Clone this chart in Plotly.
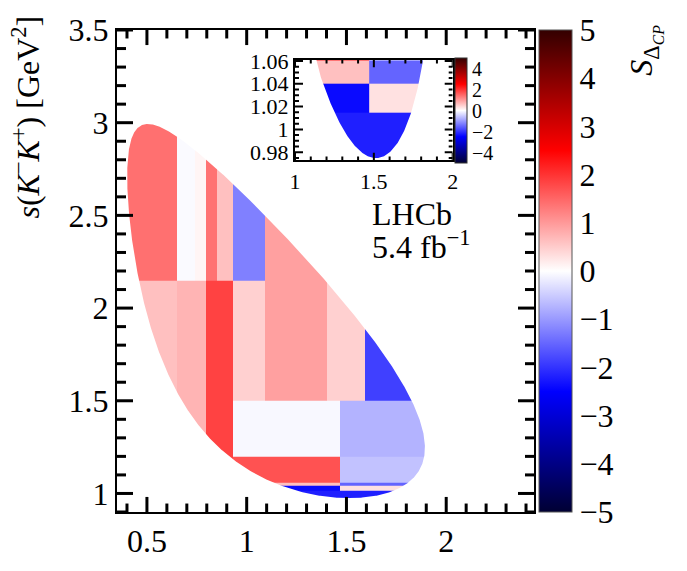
import numpy as np
import plotly.graph_objects as go

# D+ -> K- K+ pi+ masses [GeV]
M_D = 1.86966
M_K = 0.493677
M_PI = 0.13957

# Dalitz-plot bins: s(K-pi+) edges, s(K-K+) edges and the significance S_ΔCP
bin_x_lo = [0.40, 0.65, 0.74, 0.795, 0.85, 0.93,
            0.40, 0.65, 0.795, 0.93, 1.09, 1.40, 1.595,
            0.93, 1.47, 0.93, 1.47, 0.93, 1.47, 0.93, 1.47, 0.93]
bin_x_hi = [0.65, 0.74, 0.795, 0.85, 0.93, 1.09,
            0.65, 0.795, 0.93, 1.09, 1.40, 1.595, 1.90,
            1.47, 1.90, 1.47, 1.90, 1.47, 1.90, 1.47, 1.90, 1.90]
bin_y_lo = [2.15, 2.15, 2.15, 2.15, 2.15, 2.15,
            0.97, 0.97, 0.97, 1.50, 1.50, 1.50, 1.50,
            1.20, 1.20, 1.06, 1.06, 1.04, 1.04, 1.015, 1.015, 0.97]
bin_y_hi = [3.00, 3.00, 3.00, 3.00, 3.00, 3.00,
            2.15, 2.15, 2.15, 2.15, 3.00, 3.00, 3.00,
            1.50, 1.50, 1.20, 1.20, 1.06, 1.06, 1.04, 1.04, 1.015]
bin_s = [1.40, -0.05, 0.10, 1.38, 0.62, -1.25,
         0.62, 0.74, 1.85, 0.46, 0.93, 0.46, -1.87,
         -0.07, -0.75, 1.70, -0.60, 0.62, -1.52, -2.40, 0.29, -2.20]

# axis ticks
x_major = [0.5, 1.0, 1.5, 2.0]
y_major = [1.0, 1.5, 2.0, 2.5, 3.0, 3.5]
inset_x_major = [1.0, 1.5, 2.0]
inset_y_major = [0.98, 1.0, 1.02, 1.04, 1.06]
cbar_ticks = [-5, -4, -3, -2, -1, 0, 1, 2, 3, 4, 5]
inset_cbar_ticks = [-4, -2, 0, 2, 4]

FONT = "Liberation Serif"

X_RANGE = [0.35, 2.44]
Y_RANGE = [0.9, 3.5]
IX_RANGE = [1.0, 2.0]
IY_RANGE = [0.973, 1.061]


def kinematic_limits(s_kk):
    """s(K-pi+) range allowed for a given s(K-K+)."""
    m12 = np.sqrt(s_kk)
    e1 = m12 / 2.0
    e3 = (M_D**2 - s_kk - M_PI**2) / (2.0 * m12)
    p1 = np.sqrt(np.clip(e1**2 - M_K**2, 0, None))
    p3 = np.sqrt(np.clip(e3**2 - M_PI**2, 0, None))
    lo = (e1 + e3) ** 2 - (p1 + p3) ** 2
    hi = (e1 + e3) ** 2 - (p1 - p3) ** 2
    return lo, hi


# Closed Dalitz boundary, densely sampled near both ends
y_min = (2 * M_K) ** 2
y_max = (M_D - M_PI) ** 2
t = np.linspace(0, np.pi, 600)
ys = y_min + (y_max - y_min) * (1 - np.cos(t)) / 2
xlo, xhi = kinematic_limits(ys)
bx = np.concatenate([xlo, xhi[::-1]])
by = np.concatenate([ys, ys[::-1]])


def mask_path(x0, x1, y0, y1):
    """Rectangle with the Dalitz region cut out (opposite winding)."""
    area = 0.5 * np.sum(bx * np.roll(by, -1) - np.roll(bx, -1) * by)
    ix, iy = (bx, by) if area < 0 else (bx[::-1], by[::-1])
    k = int(np.argmin(iy))
    ix = np.concatenate([ix[k:], ix[:k + 1]])
    iy = np.concatenate([iy[k:], iy[:k + 1]])
    mx = [x0, x1, x1, x0, x0] + [float(v) for v in ix] + [x0]
    my = [y0, y0, y1, y1, y0] + [float(v) for v in iy] + [y0]
    return mx, my


# Heatmap bricks built from the bin list
xe = sorted(set(bin_x_lo + bin_x_hi))
ye = sorted(set(bin_y_lo + bin_y_hi))
z = []
for j in range(len(ye) - 1):
    yc = 0.5 * (ye[j] + ye[j + 1])
    row = []
    for i in range(len(xe) - 1):
        xc = 0.5 * (xe[i] + xe[i + 1])
        val = None
        for a, b, c, d, s in zip(bin_x_lo, bin_x_hi, bin_y_lo, bin_y_hi, bin_s):
            if a <= xc < b and c <= yc < d:
                val = s
                break
        row.append(val)
    z.append(row)

cscale = [[0.0, "#000033"], [0.25, "#0000ff"], [0.5, "#ffffff"],
          [0.75, "#ff0000"], [1.0, "#330000"]]

L, R, T, B = 117, 153, 15, 44
W, H = 687, 571
pw, ph = W - L - R, H - T - B


def px_x(p):
    return (p - L) / pw


def px_y(p):
    return (H - B - p) / ph


INSET_X_DOM = [px_x(295), px_x(452.7)]
INSET_Y_DOM = [px_y(153.3), px_y(46.7)]

fig = go.Figure()

# main panel
fig.add_trace(go.Heatmap(x=xe, y=ye, z=z, coloraxis="coloraxis",
                         zsmooth=False, hoverinfo="skip"))
mx, my = mask_path(0.37, 1.95, 0.94, 3.05)
fig.add_trace(go.Scatter(x=mx, y=my, mode="lines", fill="toself",
                         fillcolor="white", line=dict(width=0, color="white"),
                         hoverinfo="skip", showlegend=False))

# inset around the phi(1020) region
fig.add_trace(go.Heatmap(x=xe, y=ye, z=z, coloraxis="coloraxis2",
                         zsmooth=False, hoverinfo="skip",
                         xaxis="x2", yaxis="y2"))
mx2, my2 = mask_path(0.98, 2.02, 0.95, 1.08)
fig.add_trace(go.Scatter(x=mx2, y=my2, mode="lines", fill="toself",
                         fillcolor="white", line=dict(width=0, color="white"),
                         hoverinfo="skip", showlegend=False,
                         xaxis="x2", yaxis="y2"))


def minor_values(lo, hi, step, majors):
    n0 = int(np.ceil(lo / step - 1e-9))
    n1 = int(np.floor(hi / step + 1e-9))
    vals = [round(n * step, 4) for n in range(n0, n1 + 1)]
    return [v for v in vals if all(abs(v - m) > 1e-6 for m in majors)]


def tick_trace(xr, yr, xdom_px, ydom_px, xvals, yvals, length, width,
               xa="x", ya="y"):
    """Inward tick marks on all four sides of a frame, as one line trace."""
    ux = (xr[1] - xr[0]) / xdom_px
    uy = (yr[1] - yr[0]) / ydom_px
    tx, ty = [], []
    for v in xvals:
        tx += [v, v, None, v, v, None]
        ty += [yr[0], yr[0] + length * uy, None,
               yr[1], yr[1] - length * uy, None]
    for v in yvals:
        tx += [xr[0], xr[0] + length * ux, None,
               xr[1], xr[1] - length * ux, None]
        ty += [v, v, None, v, v, None]
    return go.Scatter(x=tx, y=ty, mode="lines", xaxis=xa, yaxis=ya,
                      connectgaps=False,
                      line=dict(color="#000000", width=width),
                      hoverinfo="skip", showlegend=False)


main_wpx = pw
main_hpx = ph
inset_wpx = (INSET_X_DOM[1] - INSET_X_DOM[0]) * pw
inset_hpx = (INSET_Y_DOM[1] - INSET_Y_DOM[0]) * ph

fig.add_trace(tick_trace(X_RANGE, Y_RANGE, main_wpx, main_hpx,
                         x_major, y_major, 16, 3))
fig.add_trace(tick_trace(X_RANGE, Y_RANGE, main_wpx, main_hpx,
                         minor_values(*X_RANGE, 0.1, x_major),
                         minor_values(*Y_RANGE, 0.1, y_major), 9, 3))
fig.add_trace(tick_trace(IX_RANGE, IY_RANGE, inset_wpx, inset_hpx,
                         inset_x_major, inset_y_major, 8, 2, "x2", "y2"))
fig.add_trace(tick_trace(IX_RANGE, IY_RANGE, inset_wpx, inset_hpx,
                         minor_values(*IX_RANGE, 0.1, inset_x_major),
                         minor_values(*IY_RANGE, 0.005, inset_y_major),
                         4, 2, "x2", "y2"))


def frame_axis(size):
    return dict(showline=True, linecolor="black", linewidth=2,
                mirror=True, ticks="", showgrid=False, zeroline=False,
                tickfont=dict(family=FONT, size=size, color="black"))


fig.update_layout(
    width=W, height=H,
    margin=dict(l=L, r=R, t=T, b=B, pad=0),
    paper_bgcolor="white", plot_bgcolor="white",
    showlegend=False,
    xaxis=dict(range=X_RANGE, tickvals=x_major, **frame_axis(32)),
    yaxis=dict(range=Y_RANGE, tickvals=y_major, **frame_axis(32)),
    xaxis2=dict(domain=INSET_X_DOM, anchor="y2",
                range=IX_RANGE, tickvals=inset_x_major, **frame_axis(22)),
    yaxis2=dict(domain=INSET_Y_DOM, anchor="x2",
                range=IY_RANGE, tickvals=inset_y_major,
                ticktext=["0.98", "1", "1.02", "1.04", "1.06"],
                **frame_axis(22)),
    coloraxis=dict(
        cmin=-5, cmax=5, colorscale=cscale,
        colorbar=dict(x=px_x(539), xanchor="left", xpad=0, ypad=0,
                      y=0.5, yanchor="middle", len=1, lenmode="fraction",
                      thickness=33, outlinewidth=1, outlinecolor="#555",
                      tickvals=cbar_ticks, ticks="",
                      tickfont=dict(family=FONT, size=32, color="black"))),
    coloraxis2=dict(
        cmin=-5, cmax=5, colorscale=cscale,
        colorbar=dict(x=px_x(455), xanchor="left", xpad=0, ypad=0,
                      y=px_y(101), yanchor="middle", len=112 / ph,
                      lenmode="fraction", thickness=12, outlinewidth=1,
                      outlinecolor="#333", tickvals=inset_cbar_ticks,
                      ticks="",
                      tickfont=dict(family=FONT, size=20, color="black"))),
)

fig.add_annotation(
    text="<i>s</i>(<i>K</i><sup>−</sup><i>K</i><sup>+</sup>) [GeV<sup>2</sup>]",
    xref="paper", yref="paper", x=px_x(26), y=px_y(-2),
    xanchor="center", yanchor="top", textangle=-90, showarrow=False,
    font=dict(family=FONT, size=32, color="black"))
fig.add_annotation(
    text="<i>S</i><sub>Δ<sub><i>CP</i></sub></sub>",
    xref="paper", yref="paper", x=px_x(645), y=px_y(37),
    xanchor="center", yanchor="middle", textangle=-90, showarrow=False,
    font=dict(family=FONT, size=32, color="black"))
fig.add_annotation(
    text="LHCb", xref="x", yref="y", x=1.62, y=0.9 + (H - B - 210) / (ph / 2.6),
    xanchor="left", yanchor="middle", showarrow=False,
    font=dict(family=FONT, size=32, color="black"))
fig.add_annotation(
    text="5.4 fb<sup>−1</sup>", xref="x", yref="y", x=1.62,
    y=0.9 + (H - B - 243) / (ph / 2.6),
    xanchor="left", yanchor="middle", showarrow=False,
    font=dict(family=FONT, size=32, color="black"))

fig.write_html("out.html")
